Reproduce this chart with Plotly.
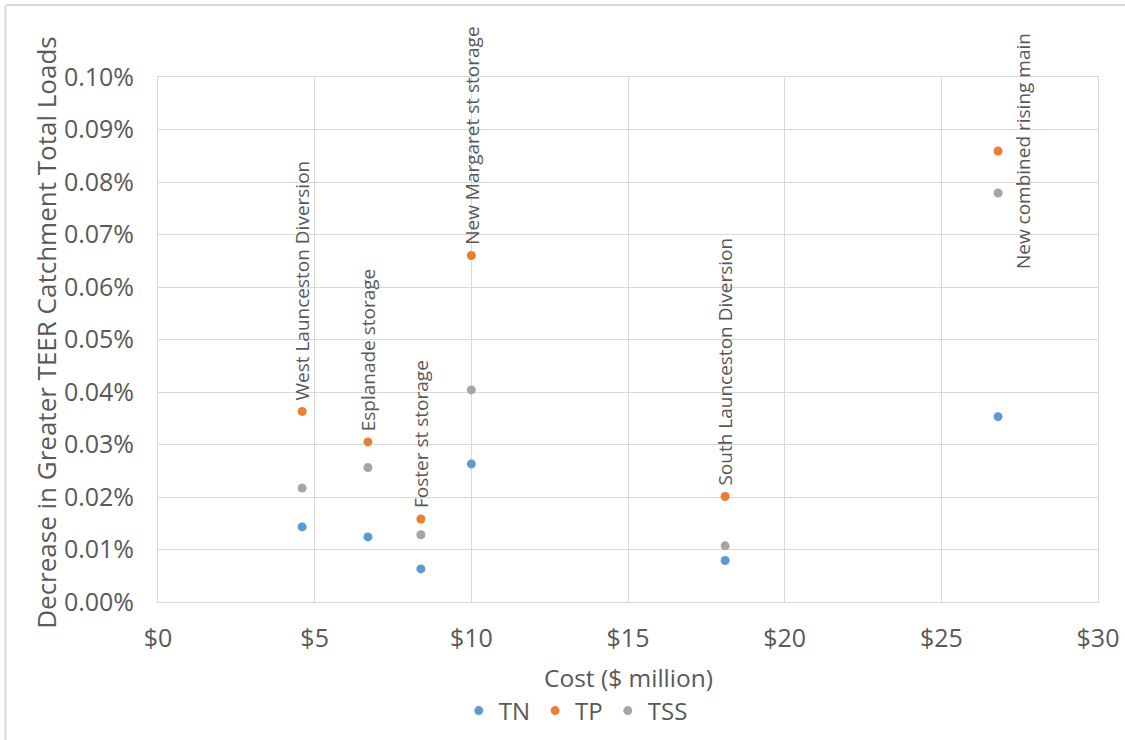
import plotly.graph_objects as go

projects = ["West Launceston Diversion", "Esplanade storage", "Foster st storage",
            "New Margaret st storage", "South Launceston Diversion", "New combined rising main"]
cost = [4.60, 6.70, 8.39, 10.0, 18.10, 26.81]
tn = [0.0143, 0.0124, 0.0063, 0.0263, 0.0079, 0.0353]
tp = [0.0363, 0.0305, 0.0158, 0.0660, 0.0201, 0.0859]
tss = [0.0217, 0.0256, 0.0128, 0.0404, 0.0107, 0.0779]

series = [("TN", tn, "#5B9BD5"), ("TP", tp, "#ED7D31"), ("TSS", tss, "#A5A5A5")]

FONT = "Open Sans"
TXT = "#595959"
GRID = "#D9D9D9"

fig = go.Figure()
for name, vals, col in series:
    fig.add_trace(go.Scatter(x=cost, y=vals, mode="markers", name=name,
                             marker=dict(color=col, size=9, line=dict(width=0))))

annotations = []
for i, p in enumerate(projects):
    if i == len(projects) - 1:
        annotations.append(dict(x=cost[i], y=tp[i], xref="x", yref="y", text=p,
                                textangle=-90, showarrow=False, xanchor="left",
                                yanchor="middle", xshift=10,
                                font=dict(family=FONT, size=19, color=TXT)))
    else:
        annotations.append(dict(x=cost[i], y=tp[i], xref="x", yref="y", text=p,
                                textangle=-90, showarrow=False, xanchor="center",
                                yanchor="bottom", yshift=9,
                                font=dict(family=FONT, size=19, color=TXT)))

annotations.append(dict(x=0.501, y=-0.143, xref="paper", yref="paper",
                        text="Cost ($ million)", showarrow=False,
                        xanchor="center", yanchor="middle",
                        font=dict(family=FONT, size=24.5, color=TXT)))
annotations.append(dict(x=-0.119, y=0.513, xref="paper", yref="paper",
                        text="Decrease in Greater TEER Catchment Total Loads",
                        textangle=-90, showarrow=False,
                        xanchor="center", yanchor="middle",
                        font=dict(family=FONT, size=26, color=TXT)))

shapes = [
    dict(type="line", xref="paper", yref="paper", x0=-0.1622, x1=-0.1622,
         y0=-0.3, y1=1.137, line=dict(color=GRID, width=2)),
    dict(type="line", xref="paper", yref="paper", x0=-0.1622, x1=1.1,
         y0=1.137, y1=1.137, line=dict(color=GRID, width=2)),
]

fig.update_layout(
    width=1125, height=740,
    margin=dict(l=158, r=27, t=77, b=138, autoexpand=False),
    paper_bgcolor="white", plot_bgcolor="white",
    font=dict(family=FONT, color=TXT),
    showlegend=True,
    legend=dict(orientation="h", x=0.32, y=-0.2076, xanchor="left", yanchor="middle",
                font=dict(family=FONT, size=24, color=TXT), itemwidth=30,
                tracegroupgap=0),
    annotations=annotations,
    shapes=shapes,
)
fig.update_xaxes(range=[0, 30], dtick=5, tick0=0, tickprefix="$",
                 showgrid=True, gridcolor=GRID, gridwidth=1,
                 showline=True, linecolor=GRID, linewidth=1, mirror=True,
                 zeroline=False, ticks="", ticklabelstandoff=14,
                 tickfont=dict(family=FONT, size=25, color=TXT))
fig.update_yaxes(range=[0, 0.1], dtick=0.01, tick0=0, tickformat=".2f", ticksuffix="%",
                 showgrid=True, gridcolor=GRID, gridwidth=1,
                 showline=True, linecolor=GRID, linewidth=1, mirror=True,
                 zeroline=False, ticks="", ticklabelstandoff=18,
                 tickfont=dict(family=FONT, size=25, color=TXT))

fig.write_html("out.html", config={"displayModeBar": False},
               post_script="document.body.style.margin='0';document.body.style.overflow='hidden';")
